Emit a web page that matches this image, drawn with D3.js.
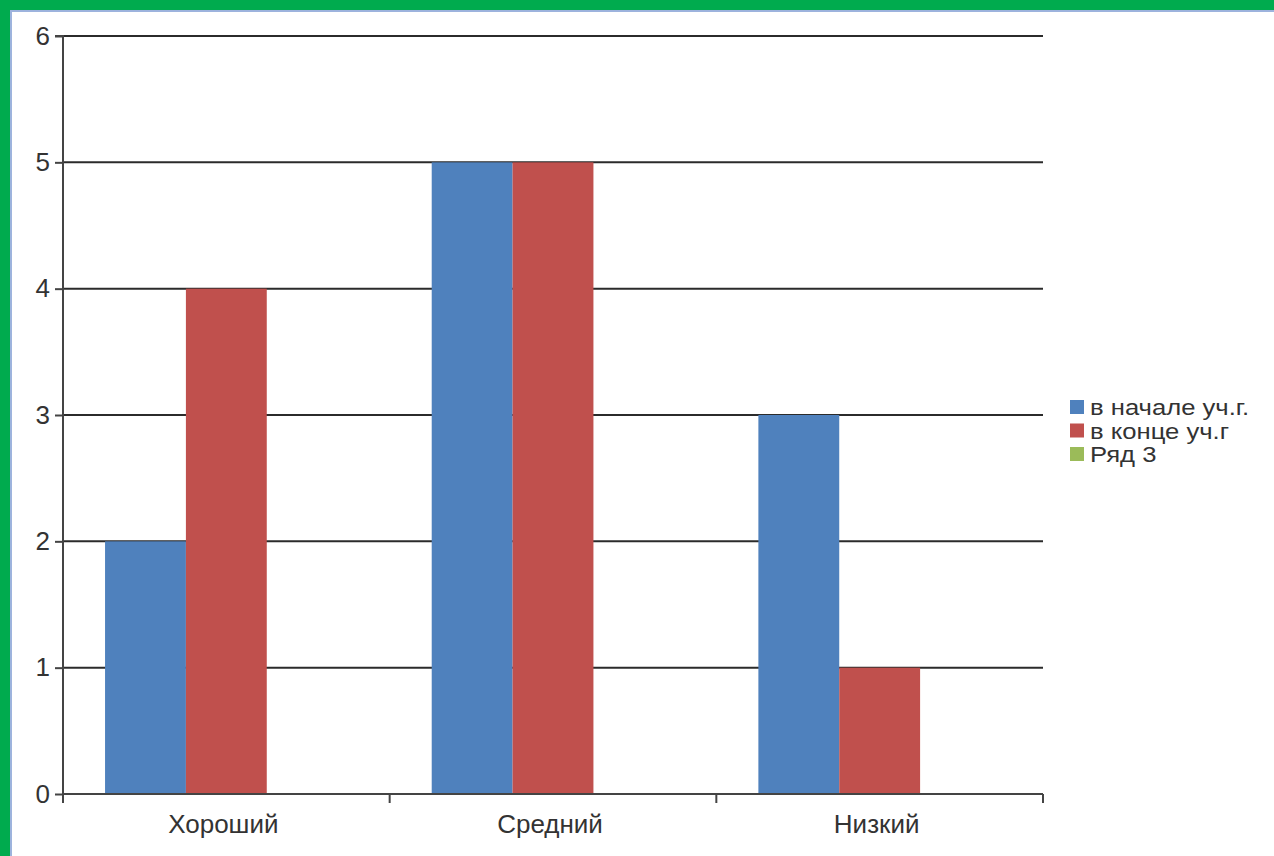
<!DOCTYPE html>
<html><head><meta charset="utf-8">
<script src="https://cdn.jsdelivr.net/npm/d3@7/dist/d3.min.js"></script>
<style>html,body{margin:0;padding:0;background:#fff;overflow:hidden}</style>
</head><body><svg id="c" width="1274" height="856"></svg>
<script>
const categories = ["Хороший", "Средний", "Низкий"];
const seriesNames = ["в начале уч.г.", "в конце уч.г", "Ряд 3"];
const seriesStart = [2, 5, 3];
const seriesEnd = [4, 5, 1];
const seriesRow3 = [0, 0, 0];
const yTicks = [0, 1, 2, 3, 4, 5, 6];
const colors = ["#4F81BD", "#C0504D", "#9BBB59"];

const values = [seriesStart, seriesEnd, seriesRow3];
const svg = d3.select("#c");
svg.append("rect").attr("x",0).attr("y",0).attr("width",1274).attr("height",856).attr("fill","#fff");
// green frame
svg.append("rect").attr("x",0).attr("y",0).attr("width",1274).attr("height",10).attr("fill","#00AB4E");
svg.append("rect").attr("x",0).attr("y",0).attr("width",10).attr("height",856).attr("fill","#00AB4E");
svg.append("line").attr("x1",10).attr("x2",1274).attr("y1",11).attr("y2",11).attr("stroke","#9DB3DD").attr("stroke-width",2);
svg.append("line").attr("x1",11).attr("x2",11).attr("y1",10).attr("y2",856).attr("stroke","#9DB3DD").attr("stroke-width",2);

const L = 63, R = 1043, T = 36, B = 794;
const x0 = d3.scaleBand().domain(categories).range([L, R]).padding(0);
const x1 = d3.scaleBand().domain(seriesNames).range([0, x0.bandwidth()]).paddingInner(0).paddingOuter(0.52);
const y = d3.scaleLinear().domain([0, 6]).range([B, T]);

// gridlines
svg.append("g").selectAll("line").data(yTicks.filter(d=>d>0)).join("line")
  .attr("x1", L).attr("x2", R).attr("y1", d=>y(d)).attr("y2", d=>y(d))
  .attr("stroke", "#2b2b2b").attr("stroke-width", 2);

// bars
categories.forEach((c, ci) => {
  seriesNames.forEach((s, si) => {
    const v = values[si][ci];
    if (v > 0) svg.append("rect")
      .attr("x", x0(c) + x1(s)).attr("width", x1.bandwidth())
      .attr("y", y(v)).attr("height", y(0) - y(v))
      .attr("fill", colors[si]);
  });
});

// y axis
const yAxis = d3.axisLeft(y).tickValues(yTicks).tickSize(8).tickPadding(5).tickFormat(d3.format("d"));
const gy = svg.append("g").attr("transform", `translate(${L},0)`).call(yAxis);
gy.select(".domain").attr("stroke", "#444").attr("stroke-width", 2).attr("d", `M-8,${T}H0V${B+9}`);
gy.selectAll(".tick line").attr("stroke", "#444").attr("stroke-width", 2);
gy.selectAll("text").attr("font-family", "Liberation Sans, Arial, sans-serif").attr("font-size", 26).attr("fill", "#333");

// x axis
const gx = svg.append("g").attr("transform", `translate(0,${B})`);
gx.append("line").attr("x1", L).attr("x2", R).attr("stroke", "#444").attr("stroke-width", 2);
gx.selectAll(".xt").data(d3.range(categories.length + 1)).join("line")
  .attr("x1", i => L + i * x0.step()).attr("x2", i => L + i * x0.step())
  .attr("y1", 0).attr("y2", 9).attr("stroke", "#444").attr("stroke-width", 2);
gx.selectAll("text").data(categories).join("text")
  .attr("x", d => x0(d) + x0.bandwidth()/2 - 3).attr("y", 39)
  .attr("text-anchor", "middle").attr("font-family", "Liberation Sans, Arial, sans-serif")
  .attr("font-size", 26).attr("fill", "#333").text(d => d);

// legend
const lg = svg.append("g").attr("transform", "translate(1070,400)");
seriesNames.forEach((s, i) => {
  const yy = i*23.5;
  lg.append("rect").attr("x", 0).attr("y", yy).attr("width", 14).attr("height", 14).attr("fill", colors[i]);
  lg.append("text").attr("transform", `translate(20,${yy+15}) scale(1.14,1)`)
    .attr("font-family", "Liberation Sans, Arial, sans-serif").attr("font-size", 22.5).attr("fill", "#333").text(s);
});
</script></body></html>
